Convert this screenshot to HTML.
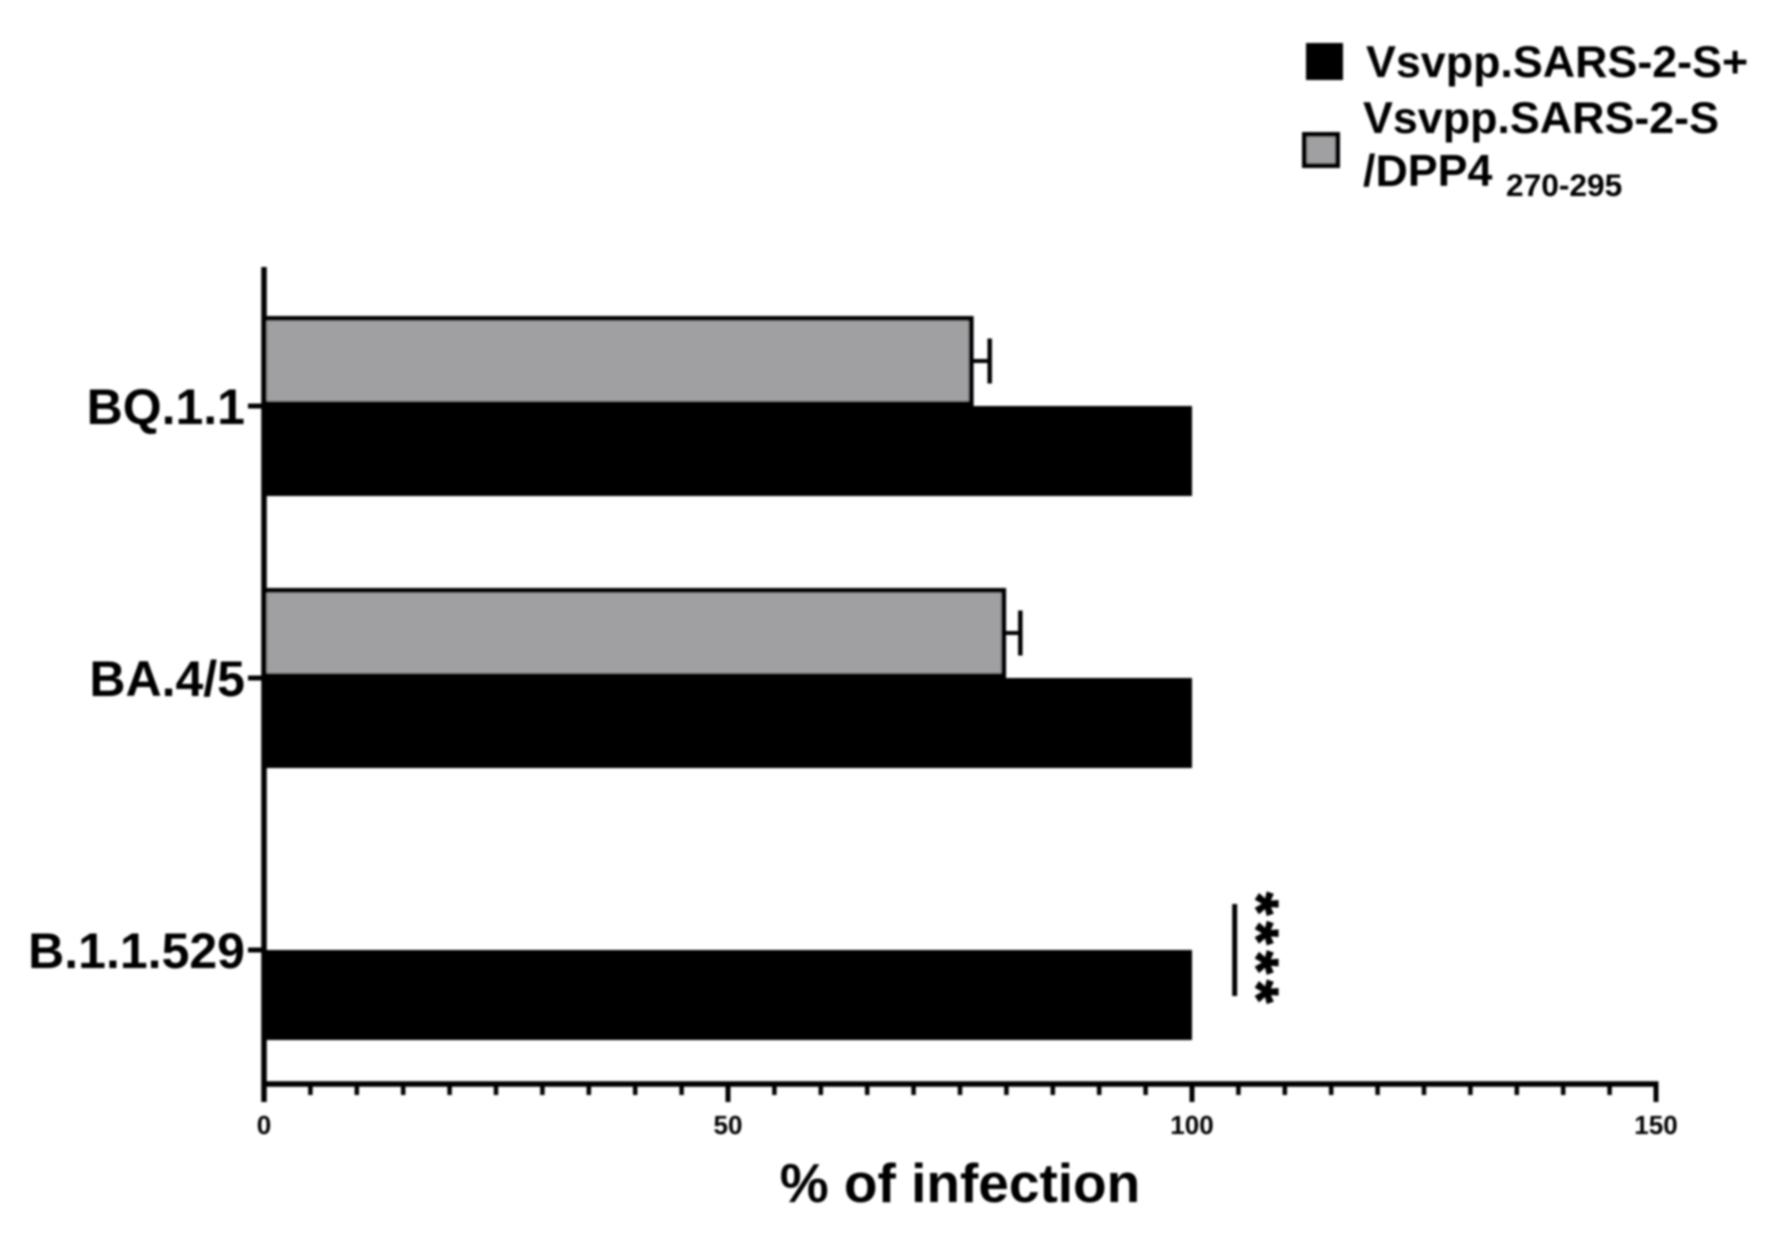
<!DOCTYPE html>
<html lang="en">
<head>
<meta charset="utf-8">
<title>% of infection by variant</title>
<style>
  html, body { margin: 0; padding: 0; background: #fff; }
  body { width: 1785px; height: 1240px; overflow: hidden; }
  svg { display: block; }
  text { font-family: "Liberation Sans", Arial, sans-serif; font-weight: bold; fill: #000; }
  .cat-label { font-size: 50px; text-anchor: end; }
  .tick-label { font-size: 26px; text-anchor: middle; }
  .legend-text { font-size: 44.8px; }
</style>
</head>
<body>
<svg id="chart" width="1785" height="1240" viewBox="0 0 1785 1240" xmlns="http://www.w3.org/2000/svg">
  <defs>
    <filter id="soft" x="0" y="0" width="100%" height="100%" filterUnits="objectBoundingBox">
      <feGaussianBlur stdDeviation="1"/>
    </filter>
  </defs>
  <rect width="1785" height="1240" fill="#fff"/>
  <g id="plot" filter="url(#soft)">
    <g id="marks"></g>
    <g id="axes"></g>
    <text x="960" y="1202" text-anchor="middle" style="font-size:55px">% of infection</text>
    <g>
      <g>
        <rect x="1306" y="43" width="37" height="37" fill="#000"/>
        <text class="legend-text" x="1366" y="77">Vsvpp.SARS-2-S+</text>
      </g>
      <g>
        <rect x="1304.5" y="134.5" width="33" height="31" fill="#a0a0a2" stroke="#000" stroke-width="5"/>
        <text class="legend-text" x="1363" y="133">Vsvpp.SARS-2-S</text>
        <text class="legend-text" x="1363" y="186">/DPP4</text>
        <text x="1506" y="196" style="font-size:31.7px">270-295</text>
      </g>
    </g>
  </g>
</svg>
<script>
const categories = ["BQ.1.1", "BA.4/5", "B.1.1.529"];
const spikeValues = [100, 100, 100];
const dppValues = [76.2, 79.7, null];
const dppErrors = [2.0, 1.8, null];
const xMajorTicks = [0, 50, 100, 150];
const xMinorTicks = [5, 10, 15, 20, 25, 30, 35, 40, 45, 55, 60, 65, 70, 75, 80, 85, 90, 95, 105, 110, 115, 120, 125, 130, 135, 140, 145];
const significance = { category: "B.1.1.529", value: 104.6, label: "****" };

const NS = "http://www.w3.org/2000/svg";
const marks = document.getElementById("marks");
const axes = document.getElementById("axes");

function xScale(v) { return 264 + v * 9.28; }
function yScale(i) { return 406 + i * 272; }
const BAND = 90;

function make(tag, attrs, parent) {
  const el = document.createElementNS(NS, tag);
  for (const k in attrs) el.setAttribute(k, attrs[k]);
  parent.appendChild(el);
  return el;
}
function line(x1, y1, x2, y2, w, parent) {
  return make("line", { x1, y1, x2, y2, stroke: "#000", "stroke-width": w }, parent);
}

categories.forEach(function (cat, i) {
  const yc = yScale(i);

  if (dppValues[i] !== null) {
    const barEnd = xScale(dppValues[i]);
    const capX = xScale(dppValues[i] + dppErrors[i]);
    const stem = line(barEnd, yc - BAND / 2, capX, yc - BAND / 2, 4, marks);
    
    
    const cap = line(capX, yc - BAND / 2 - 22.5, capX, yc - BAND / 2 + 22.5, 4.5, marks);
    
    
    const gray = make("rect", {
      x: xScale(0), y: yc - BAND + 2.5, width: barEnd - xScale(0), height: BAND - 5,
      fill: "#a0a0a2", stroke: "#000", "stroke-width": 5
    }, marks);
    
    
  }

  const black = make("rect", {
    x: xScale(0), y: yc, width: xScale(spikeValues[i]) - xScale(0), height: BAND, fill: "#000"
  }, marks);
  
  

  const tick = line(248, yc, xScale(0), yc, 5, axes);
  
  

  const label = make("text", { x: 245, y: yc + 18, class: "cat-label" }, axes);
  label.textContent = cat;
  
  
});

const yAxis = line(xScale(0), 267, xScale(0), 1102, 5.5, axes);



const xAxis = line(xScale(0) - 2.5, 1084, xScale(150) + 2.5, 1084, 5.5, axes);



xMinorTicks.forEach(function (v) {
  const t = line(xScale(v), 1084, xScale(v), 1095, 4.5, axes);
  
  
});

xMajorTicks.forEach(function (v) {
  const t = line(xScale(v), 1084, xScale(v), 1102, 5, axes);
  
  
  const lab = make("text", { x: xScale(v), y: 1134, class: "tick-label" }, axes);
  lab.textContent = String(v);
  
  
});

const sigY = yScale(categories.indexOf(significance.category));
const sigX = xScale(significance.value);
const sigLine = line(sigX, sigY - 46, sigX, sigY + 46, 5, marks);



const stars = make("text", {
  transform: "translate(" + (sigX + 2) + "," + (sigY - 58) + ") rotate(90)"
}, marks);
stars.setAttribute("style", "font-size:60px;letter-spacing:6px;stroke:#000;stroke-width:1.2px");
stars.textContent = significance.label;


</script>
</body>
</html>
